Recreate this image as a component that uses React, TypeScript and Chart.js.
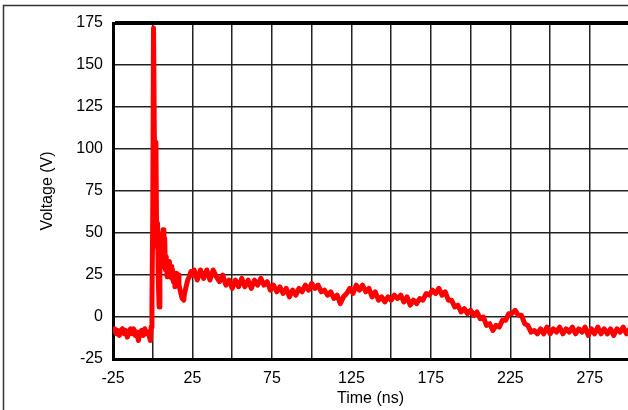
import { useEffect, useRef } from "react";
import { Chart, registerables } from "chart.js";

Chart.register(...registerables);

const timeNs = [
  -25, -24, -23, -22, -21, -20, -19, -18, -17, -16, -15, -14, -13, -12, -11, -10, -9, -8, -7, -6, -5, -4, -3, -2,
  -1.5, -1, -0.5, 0, 0.5, 1, 1.5, 2, 2.5, 3, 3.5, 4, 4.5, 5, 5.5, 6, 6.5, 7, 7.5, 8, 8.5, 9, 9.5, 10,
  10.5, 11, 11.5, 12, 12.5, 13, 13.5, 14, 14.5, 15, 15.5, 16, 16.5, 17, 17.5, 18, 18.5, 19, 19.5, 20,
  21, 22, 23, 24, 25,
  26, 28, 30, 32, 34, 36, 38, 40, 42, 44,
  46, 48, 50, 52, 54, 56, 58, 60, 62, 64,
  66, 68, 70, 72, 74, 76, 78, 80, 82, 84,
  86, 88, 90, 92, 94, 96, 98, 100, 102, 104,
  106, 108, 110, 112, 114, 116, 118, 120, 122, 124,
  126, 128, 130, 132, 134, 136, 138, 140, 142, 144,
  146, 148, 150, 152, 154, 156, 158, 160, 162, 164,
  166, 168, 170, 172, 174, 176, 178, 180, 182, 184,
  186, 188, 190, 192, 194, 196, 198, 200, 202, 204,
  206, 208, 210, 212, 214, 216, 218, 220, 222, 224,
  226, 228, 230, 232, 234, 236, 238, 240, 242, 244,
  246, 248, 250, 252, 254, 256, 258, 260, 262, 264,
  266, 268, 270, 272, 274, 276, 278, 280, 282, 284,
  286, 288, 290, 292, 294, 296, 298, 300,
];

const voltage = [
  -9, -7, -10, -8, -11, -8, -7, -10, -8, -12, -9, -7, -10, -7, -11, -9, -14, -9, -8, -11, -7, -10, -9, -12,
  -14, -6, 8, 60, 172, 110, 55, 104, 42, 56, 22, 6, 25, 44, 30, 48, 52, 36, 47, 28, 36, 24, 31, 26,
  33, 27, 30, 23, 28, 21, 25, 18, 23, 26, 21, 25, 19, 17, 15, 13, 11, 12, 10, 14,
  18, 22, 24, 27, 25,
  28, 22, 28, 23, 28, 22, 28, 24, 21, 25,
  19, 22, 17, 22, 18, 23, 18, 22, 17, 22,
  19, 23, 19, 21, 16, 19, 15, 18, 14, 17,
  12, 16, 13, 17, 15, 19, 16, 20, 17, 19,
  15, 16, 13, 15, 11, 13, 8, 12, 14, 17,
  14, 19, 16, 19, 15, 17, 12, 15, 10, 12,
  9, 12, 10, 13, 11, 13, 9, 12, 7, 10,
  8, 11, 10, 14, 13, 16, 14, 17, 13, 15,
  10, 10, 6, 7, 3, 5, 2, 4, 1, 3,
  -1, 0, -5, -4, -8, -5, -6, -2, -2, 2,
  2, 4, 1, 1, -4, -5, -9, -8, -10, -7,
  -10, -6, -10, -7, -9, -6, -10, -7, -9, -6,
  -10, -7, -9, -6, -11, -7, -10, -6, -10, -7,
  -10, -7, -11, -7, -9, -6, -10, -7,
];

const xGridValues = [-25, 0, 25, 50, 75, 100, 125, 150, 175, 200, 225, 250, 275];
const xTickLabels = [-25, 25, 75, 125, 175, 225, 275];
const yTickValues = [-25, 0, 25, 50, 75, 100, 125, 150, 175];

const FONT = "'Liberation Sans', Arial, Helvetica, sans-serif";

export default function App() {
  const ref = useRef<HTMLCanvasElement>(null);

  useEffect(() => {
    document.body.style.margin = "0";
    const frame = {
      id: "outerFrame",
      beforeDraw(chart: any) {
        const c = chart.ctx;
        c.save();
        c.strokeStyle = "#333";
        c.lineWidth = 1.5;
        c.beginPath();
        c.moveTo(3.5, 410);
        c.lineTo(3.5, 5.5);
        c.lineTo(628, 5.5);
        c.stroke();
        c.restore();
      },
    };
    const chart = new Chart(ref.current as HTMLCanvasElement, {
      type: "line",
      data: {
        datasets: [
          {
            data: timeNs.map((t, i) => ({ x: t, y: voltage[i] })),
            borderColor: "#ff0000",
            backgroundColor: "#ff0000",
            borderWidth: 5,
            borderJoinStyle: "round",
            borderCapStyle: "butt",
            pointRadius: 0,
            tension: 0,
          },
        ],
      },
      options: {
        animation: false,
        responsive: false,
        layout: { padding: { top: 23, left: 0, right: 0, bottom: 0 } },
        plugins: { legend: { display: false }, tooltip: { enabled: false } },
        scales: {
          x: {
            type: "linear",
            min: -25,
            max: 299,
            afterBuildTicks: (s: any) => {
              s.ticks = xGridValues.map((v) => ({ value: v }));
            },
            afterFit: (s: any) => {
              s.height = 51;
            },
            ticks: {
              autoSkip: false,
              maxRotation: 0,
              padding: 10,
              color: "#000",
              font: { family: FONT, size: 16 },
              callback: (v: any) => (xTickLabels.includes(Number(v)) ? String(v) : ""),
            },
            grid: { color: "#222", lineWidth: 1.5, drawTicks: false },
            border: { color: "#000", width: 3 },
            title: {
              display: true,
              text: "Time (ns)",
              color: "#000",
              font: { family: FONT, size: 16 },
              padding: { top: 0, bottom: 2 },
            },
          },
          y: {
            type: "linear",
            min: -25,
            max: 175,
            afterBuildTicks: (s: any) => {
              s.ticks = yTickValues.map((v) => ({ value: v }));
            },
            afterFit: (s: any) => {
              s.width = 113;
            },
            ticks: {
              autoSkip: false,
              padding: 10,
              color: "#000",
              font: { family: FONT, size: 16 },
            },
            grid: {
              color: (ctx: any) => (ctx.tick && ctx.tick.value === 175 ? "#000" : "#222"),
              lineWidth: (ctx: any) => (ctx.tick && ctx.tick.value === 175 ? 4 : 1.5),
              drawTicks: false,
            },
            border: { color: "#000", width: 3 },
            title: {
              display: true,
              text: "Voltage (V)",
              color: "#000",
              font: { family: FONT, size: 16 },
              padding: { top: 38, bottom: 0 },
            },
          },
        },
      },
      plugins: [frame],
    });
    return () => chart.destroy();
  }, []);

  return (
    <div style={{ width: 628, height: 410 }}>
      <canvas ref={ref} width={628} height={410} style={{ display: "block" }} />
    </div>
  );
}
